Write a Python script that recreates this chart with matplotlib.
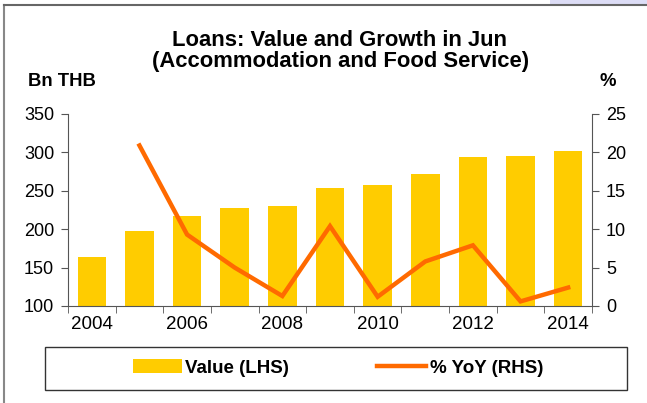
import matplotlib.pyplot as plt
import numpy as np
from matplotlib.lines import Line2D
from matplotlib.patches import Patch, Rectangle

plt.rcParams['font.family'] = ['Liberation Sans', 'DejaVu Sans']

years = [2004, 2005, 2006, 2007, 2008, 2009, 2010, 2011, 2012, 2013, 2014]
value_bn = [164, 198, 217, 227, 230, 254, 257, 272, 294, 295, 302]
yoy_pct = [None, 20.9, 9.3, 5.0, 1.3, 10.4, 1.2, 5.8, 7.9, 0.6, 2.4]
year_labels = ['2004', '', '2006', '', '2008', '', '2010', '', '2012', '', '2014']

bar_color = '#FFCC00'
line_color = '#FF6A00'
axis_color = '#555555'
W, H = 647, 403

fig = plt.figure(figsize=(W / 100, H / 100), dpi=100)
ax = fig.add_axes([68 / W, 1 - 306 / H, 524 / W, 192 / H])
x = np.arange(len(years))

ax.bar(x, value_bn, width=0.6, color=bar_color, zorder=2)
ax.set_xlim(-0.5, len(years) - 0.5)
ax.set_ylim(100, 350)
ax.set_yticks(np.arange(100, 351, 50))

ax2 = ax.twinx()
ys = np.array([np.nan if v is None else v for v in yoy_pct], dtype=float)
ax2.plot(x, ys, color=line_color, lw=3.2, solid_joinstyle='miter', zorder=3)
ax2.set_ylim(0, 25)
ax2.set_yticks(np.arange(0, 26, 5))

# category labels under the bars, tick marks between categories
ax.set_xticks(x)
ax.set_xticklabels(year_labels)
ax.tick_params(axis='x', length=0, pad=7, labelsize=13.5)
ax.set_xticks(np.arange(-0.5, len(years), 1), minor=True)
ax.tick_params(axis='x', which='minor', length=5, color=axis_color, direction='out')

for a in (ax, ax2):
    a.spines['top'].set_visible(False)
    a.tick_params(axis='y', length=5, color=axis_color, labelsize=13, pad=5)
ax.spines['right'].set_visible(False)
ax2.spines['left'].set_visible(False)
ax2.spines['bottom'].set_visible(False)
ax.spines['left'].set_color(axis_color)
ax.spines['bottom'].set_color(axis_color)
ax2.spines['right'].set_color(axis_color)

fig.text(340 / W, 1 - 40 / H, 'Loans: Value and Growth in Jun', ha='center', va='center',
         fontsize=15.8, fontweight='bold')
fig.text(341 / W, 1 - 62 / H, '(Accommodation and Food Service)', ha='center', va='center',
         fontsize=15.8, fontweight='bold')
fig.text(28 / W, 1 - 81 / H, 'Bn THB', ha='left', va='center', fontsize=13.3, fontweight='bold')
fig.text(600 / W, 1 - 81 / H, '%', ha='left', va='center', fontsize=13.3, fontweight='bold')

# legend box spanning the chart width
fig.add_artist(Rectangle((45 / W, 1 - 390 / H), 582 / W, 43 / H, transform=fig.transFigure,
                         facecolor='white', edgecolor='#333333', lw=1.0))
handles = [Patch(facecolor=bar_color, edgecolor='none', label='Value (LHS)'),
           Line2D([0], [0], color=line_color, lw=3.2, label='% YoY (RHS)')]
leg = fig.legend(handles=handles, loc='center', bbox_to_anchor=(338 / W, 1 - 368 / H),
                 ncol=2, frameon=False, prop={'weight': 'bold', 'size': 13.5},
                 handlelength=2.6, handleheight=0.7, handletextpad=0.2, columnspacing=4.7)

# outer border lines on left and top, with a faint tint in the corner
fig.add_artist(Rectangle((550 / W, 1 - 5 / H), 97 / W, 5 / H, transform=fig.transFigure,
                         facecolor='#DDDDF6', edgecolor='none'))
fig.add_artist(Line2D([4 / W, 4 / W], [0, 1 - 5 / H], color='#888888', lw=1.5))
fig.add_artist(Line2D([4 / W, 1], [1 - 5 / H, 1 - 5 / H], color='#666666', lw=1.5))

fig.savefig('out.png', dpi=100)
